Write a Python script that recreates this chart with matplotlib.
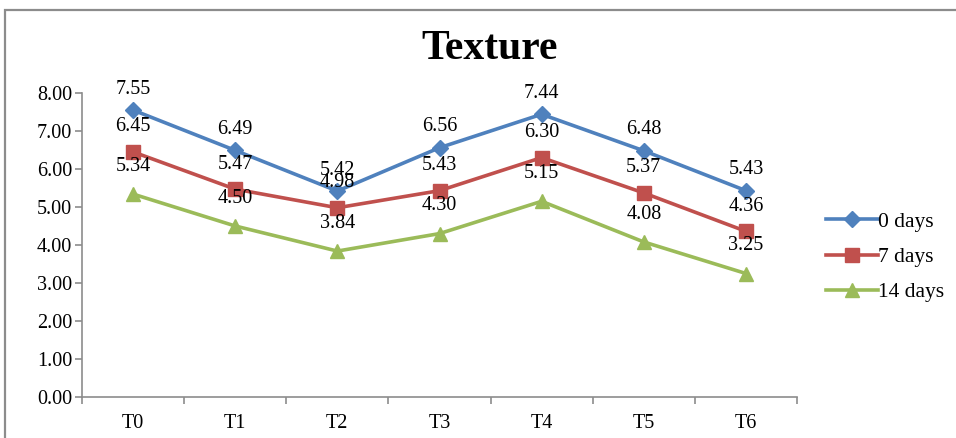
import matplotlib
matplotlib.use("Agg")
import matplotlib.pyplot as plt
from matplotlib.patches import Rectangle
from matplotlib.ticker import FixedLocator, NullFormatter

plt.rcParams['font.family'] = ['Liberation Serif', 'DejaVu Serif']

categories = ["T0", "T1", "T2", "T3", "T4", "T5", "T6"]
series_names = ["0 days", "7 days", "14 days"]
day0 = [7.55, 6.49, 5.42, 6.56, 7.44, 6.48, 5.43]
day7 = [6.45, 5.47, 4.98, 5.43, 6.30, 5.37, 4.36]
day14 = [5.34, 4.50, 3.84, 4.30, 5.15, 4.08, 3.25]
y_ticks = [0, 1, 2, 3, 4, 5, 6, 7, 8]

colors = ["#4F81BD", "#C0504D", "#9BBB59"]
markers = ["D", "s", "^"]
marker_sizes = [8, 10, 10]
label_offsets = [15, 18, 20]  # points above each marker

fig = plt.figure(figsize=(9.56, 4.38), dpi=100)
fig.patch.set_facecolor("white")

# chart-area frame
fig.add_artist(Rectangle((5 / 956, -0.1), 1.2, 1 - 10 / 438 + 0.1,
                         transform=fig.transFigure, fill=False,
                         edgecolor="#8c8c8c", linewidth=1.6))

ax = fig.add_axes([82 / 956, 41 / 438, (797 - 82) / 956, (397 - 93) / 438])
x = list(range(len(categories)))

for vals, name, c, m, ms, off in zip([day0, day7, day14], series_names, colors,
                                     markers, marker_sizes, label_offsets):
    ax.plot(x, vals, color=c, marker=m, markersize=ms, linewidth=2.6,
            label=name, clip_on=False)
    for xi, v in zip(x, vals):
        ax.annotate(f"{v:.2f}", (xi, v), xytext=(0, off),
                    textcoords="offset points", ha="center", va="center",
                    fontsize=14.5, color="black")

ax.set_xlim(-0.5, len(categories) - 0.5)
ax.set_ylim(0, 8)
ax.set_yticks(y_ticks)
ax.set_yticklabels([f"{t:.2f}" for t in y_ticks], fontsize=14.5)

ax.set_xticks(x)
ax.set_xticklabels(categories, fontsize=14.5)
ax.xaxis.set_minor_locator(FixedLocator([i - 0.5 for i in range(len(categories) + 1)]))
ax.xaxis.set_minor_formatter(NullFormatter())
ax.tick_params(axis="x", which="major", length=0, pad=12)
ax.tick_params(axis="x", which="minor", length=5, color="#8c8c8c", width=1.2)
ax.tick_params(axis="y", length=5, color="#8c8c8c", width=1.2, pad=2)

for s in ["top", "right"]:
    ax.spines[s].set_visible(False)
for s in ["left", "bottom"]:
    ax.spines[s].set_color("#8c8c8c")
    ax.spines[s].set_linewidth(1.2)

fig.text(490 / 956, 1 - 49 / 438, "Texture", ha="center", va="center",
         fontsize=30, fontweight="bold")

fig.legend(loc="center left", bbox_to_anchor=(807 / 956, 1 - 257 / 438),
           frameon=False, fontsize=15.5, handlelength=2.4, handletextpad=0.0,
           labelspacing=0.7)

fig.savefig("out.png", dpi=100)
